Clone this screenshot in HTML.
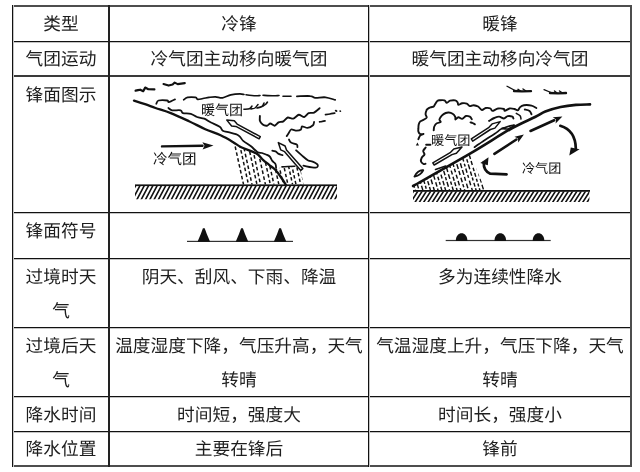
<!DOCTYPE html>
<html lang="zh-CN">
<head>
<meta charset="utf-8">
<style>
html,body{margin:0;padding:0;background:#fff;}
.t,.d{will-change:transform;}
body{width:640px;height:472px;position:relative;overflow:hidden;text-rendering:geometricPrecision;font-family:"Liberation Sans",sans-serif;color:#1e1e1e;}
.h{position:absolute;height:1px;background:#111;border-bottom:1px solid #c4c4c4;}
.v{position:absolute;width:1px;background:#111;border-right:1px solid #c4c4c4;}
.t{position:absolute;font-size:17.7px;line-height:20px;white-space:nowrap;text-align:center;}
svg{position:absolute;}
.d{position:absolute;font-size:13.5px;line-height:16px;white-space:nowrap;color:#111;}
</style>
</head>
<body>
<!-- grid -->
<div class="h" style="left:12px;top:5px;width:620px;height:2px;background:#4d4d4d;border:0"></div>
<div class="h" style="left:12px;top:41px;width:620px"></div>
<div class="h" style="left:12px;top:75px;width:620px;height:2px;background:#3a3a3a;border:0"></div>
<div class="h" style="left:12px;top:212px;width:620px"></div>
<div class="h" style="left:12px;top:258px;width:620px"></div>
<div class="h" style="left:12px;top:327px;width:620px"></div>
<div class="h" style="left:12px;top:396px;width:620px"></div>
<div class="h" style="left:12px;top:431px;width:620px"></div>
<div class="h" style="left:12px;top:465px;width:620px;height:2px;background:#4d4d4d;border:0"></div>
<div class="v" style="left:12px;top:5px;height:462px"></div>
<div class="v" style="left:108px;top:5px;height:462px;width:2px;background:#222;border:0"></div>
<div class="v" style="left:368px;top:5px;height:462px"></div>
<div class="v" style="left:630px;top:5px;height:462px;width:2px;background:#4d4d4d;border:0"></div>
<!-- col1 -->
<div class="t" style="left:14px;width:94px;top:14px">类型</div>
<div class="t" style="left:14px;width:94px;top:49px">气团运动</div>
<div class="t" style="left:14px;width:94px;top:85px">锋面图示</div>
<div class="t" style="left:14px;width:94px;top:221px">锋面符号</div>
<div class="t" style="left:14px;width:94px;top:267px">过境时天</div>
<div class="t" style="left:14px;width:94px;top:301px">气</div>
<div class="t" style="left:14px;width:94px;top:336px">过境后天</div>
<div class="t" style="left:14px;width:94px;top:370px">气</div>
<div class="t" style="left:14px;width:94px;top:405px">降水时间</div>
<div class="t" style="left:14px;width:94px;top:439px">降水位置</div>

<!-- col2 -->
<div class="t" style="left:110px;width:258px;top:14px">冷锋</div>
<div class="t" style="left:110px;width:258px;top:49px">冷气团主动移向暖气团</div>
<div class="t" style="left:110px;width:258px;top:267px">阴天、刮风、下雨、降温</div>
<div class="t" style="left:110px;width:258px;top:336px">温度湿度下降，气压升高，天气</div>
<div class="t" style="left:110px;width:258px;top:370px">转晴</div>
<div class="t" style="left:110px;width:258px;top:405px">时间短，强度大</div>
<div class="t" style="left:110px;width:258px;top:439px">主要在锋后</div>

<!-- col3 -->
<div class="t" style="left:370px;width:260px;top:14px">暖锋</div>
<div class="t" style="left:370px;width:260px;top:49px">暖气团主动移向冷气团</div>
<div class="t" style="left:370px;width:260px;top:267px">多为连续性降水</div>
<div class="t" style="left:370px;width:260px;top:336px">气温湿度上升，气压下降，天气</div>
<div class="t" style="left:370px;width:260px;top:370px">转晴</div>
<div class="t" style="left:370px;width:260px;top:405px">时间长，强度小</div>
<div class="t" style="left:370px;width:260px;top:439px">锋前</div>

<svg width="640" height="472" viewBox="0 0 640 472" style="left:0;top:0">
<path d="M135.6,90.7 L138.0,90.2 L140.2,89.7 L143.2,91.2 L145.2,87.6 L148.3,89.2 L154.4,89.4" fill="none" stroke="#111" stroke-width="2.2" stroke-linecap="round" stroke-linejoin="round" />
<path d="M163.5,84.1 L168.6,85.6 L172.6,84.6 L174.7,82.6 L177.7,84.1 L184.8,83.1" fill="none" stroke="#111" stroke-width="2.1" stroke-linecap="round" stroke-linejoin="round" />
<path d="M134.0,100.6 C135.8,101.2 141.4,103.0 145.0,104.2 C148.6,105.4 151.2,106.5 155.5,108.0 C159.8,109.5 165.2,110.9 170.8,113.1 C176.4,115.3 183.2,118.5 189.0,121.2 C194.8,123.9 200.0,126.8 205.3,129.2 C210.6,131.5 216.0,133.2 220.6,135.3 C225.2,137.4 229.4,139.9 232.8,141.9 C236.2,143.9 237.3,145.3 241.2,147.2 C245.1,149.1 252.8,151.4 256.4,153.5 C260.0,155.6 260.6,157.7 262.7,159.6 C264.8,161.5 267.1,163.2 269.1,164.8 C271.2,166.5 273.1,167.6 275.0,169.5 C276.9,171.4 278.7,173.9 280.5,176.5 C282.3,179.1 285.1,183.6 286.0,185.0" fill="none" stroke="#111" stroke-width="2.3" stroke-linecap="round" stroke-linejoin="round"/>
<path d="M156.3,103.7 C156.7,103.2 156.8,101.0 158.6,100.5 C160.4,100.0 165.5,100.2 167.2,100.5 C168.9,100.8 167.5,102.3 168.8,102.1 C170.1,101.9 174.0,99.9 175.0,99.4" fill="none" stroke="#111" stroke-width="1.8" stroke-linecap="round" stroke-linejoin="round"/>
<path d="M183.7,99.8 C184.3,99.4 185.6,97.8 187.6,97.4 C189.6,97.0 193.8,97.1 195.5,97.4 C197.2,97.7 196.6,99.2 197.8,99.4 C199.1,99.6 201.1,98.8 203.0,98.5 C204.9,98.2 206.9,97.7 209.0,97.4 C211.1,97.1 213.2,96.7 215.5,96.8 C217.8,96.9 220.0,98.1 222.6,97.8 C225.2,97.5 227.9,95.5 230.8,94.8 C233.7,94.1 237.8,93.8 240.0,93.8 C242.2,93.8 243.3,94.4 244.0,94.5" fill="none" stroke="#111" stroke-width="1.7" stroke-linecap="round" stroke-linejoin="round"/>
<path d="M246.0,94.8 C247.6,95.0 253.4,95.7 255.7,95.8 C258.0,95.9 259.3,95.5 260.0,95.5" fill="none" stroke="#111" stroke-width="1.6" stroke-linecap="round" stroke-linejoin="round"/>
<path d="M263.0,95.3 C264.8,95.4 271.0,95.8 273.7,95.8 C276.4,95.8 278.1,95.5 279.0,95.5" fill="none" stroke="#111" stroke-width="1.6" stroke-linecap="round" stroke-linejoin="round"/>
<path d="M283.0,96.3 L291.0,96.3" fill="none" stroke="#111" stroke-width="1.6" stroke-linecap="round" stroke-linejoin="round" />
<path d="M296.9,96.3 C299.1,96.3 307.2,95.8 310.3,96.1 C313.4,96.3 312.8,97.6 315.3,97.8 C317.8,98.0 322.2,96.9 325.5,97.3 C328.8,97.7 333.6,99.5 335.2,99.9" fill="none" stroke="#111" stroke-width="1.8" stroke-linecap="round" stroke-linejoin="round"/>
<path d="M168.4,108.0 C169.0,108.4 170.0,109.9 172.0,110.3 C174.0,110.7 178.8,109.8 180.6,110.3 C182.4,110.8 181.2,112.5 182.9,113.1 C184.6,113.7 188.5,113.2 190.8,113.9 C193.2,114.6 194.8,116.2 197.0,117.0 C199.2,117.8 202.0,117.8 204.3,118.7 C206.6,119.6 208.4,121.2 211.0,122.5 C213.6,123.8 217.7,125.4 219.7,126.8 C221.7,128.2 221.4,129.8 222.8,130.7 C224.2,131.6 225.7,131.4 228.3,132.2 C230.9,133.0 236.0,133.9 238.5,135.4 C241.0,136.9 241.1,139.1 243.2,140.9 C245.3,142.7 248.7,144.5 251.0,146.3 C253.3,148.2 255.5,150.9 257.3,152.0 C259.1,153.1 260.6,152.6 262.0,153.0 C263.4,153.4 264.7,153.9 266.0,154.5 C267.3,155.1 268.6,155.4 269.7,156.5 C270.8,157.6 271.3,159.6 272.3,160.9 C273.3,162.2 274.9,162.9 275.5,164.1 C276.1,165.3 276.0,167.3 276.1,168.0" fill="none" stroke="#111" stroke-width="1.8" stroke-linecap="round" stroke-linejoin="round"/>
<path d="M243.9,109.2 C244.8,109.1 248.1,109.3 249.4,108.8 C250.8,108.3 251.6,106.5 252.0,106.0" fill="none" stroke="#111" stroke-width="1.5" stroke-linecap="round" stroke-linejoin="round"/>
<path d="M251.0,109.0 C251.7,108.8 253.8,108.8 255.0,108.0 C256.2,107.2 257.5,105.1 258.0,104.5" fill="none" stroke="#111" stroke-width="1.5" stroke-linecap="round" stroke-linejoin="round"/>
<path d="M257.0,108.0 C257.8,107.8 260.8,107.3 262.0,106.5 C263.2,105.7 263.7,103.6 264.0,103.0" fill="none" stroke="#111" stroke-width="1.6" stroke-linecap="round" stroke-linejoin="round"/>
<path d="M263.0,106.0 C263.5,105.7 265.3,104.7 266.0,104.0 C266.7,103.3 267.2,102.4 267.4,102.1" fill="none" stroke="#111" stroke-width="1.7" stroke-linecap="round" stroke-linejoin="round"/>
<path d="M259.9,115.9 C259.9,116.5 259.6,119.8 259.9,120.8 C260.2,121.8 261.9,124.0 262.7,124.6 C263.5,125.2 266.1,125.8 267.0,125.7 C267.9,125.6 269.4,123.5 270.3,123.5 C271.2,123.5 273.7,125.8 274.7,125.7 C275.7,125.6 277.5,122.9 278.5,122.4 C279.5,121.9 282.3,121.9 283.4,121.3 C284.5,120.7 286.6,117.8 287.8,117.5 C289.0,117.2 292.0,118.9 293.3,118.6 C294.6,118.3 297.5,115.0 298.8,114.8 C300.1,114.6 303.1,117.2 304.2,117.0 C305.3,116.8 307.4,113.6 308.6,113.1 C309.8,112.6 312.8,113.2 314.1,112.6 C315.4,112.0 319.0,108.7 319.6,108.2" fill="none" stroke="#111" stroke-width="1.9" stroke-linecap="round" stroke-linejoin="round"/>
<path d="M286.7,136.1 C287.0,135.7 288.4,133.6 288.9,132.8 C289.4,132.0 290.2,129.8 291.1,129.5 C292.0,129.2 295.4,130.6 296.6,130.6 C297.8,130.6 300.4,130.0 301.0,129.5 C301.6,129.0 301.2,126.5 302.0,126.3 C302.8,126.1 306.2,128.0 307.5,127.9 C308.8,127.8 312.2,125.9 313.0,125.2 C313.8,124.5 314.0,122.3 314.1,121.9" fill="none" stroke="#111" stroke-width="1.8" stroke-linecap="round" stroke-linejoin="round"/>
<path d="M319.6,121.9 C320.0,121.8 321.1,121.7 322.0,121.5 C322.9,121.3 324.5,120.9 325.0,120.8" fill="none" stroke="#111" stroke-width="1.7" stroke-linecap="round" stroke-linejoin="round"/>
<path d="M325.5,114.6 C326.2,114.5 328.5,114.2 330.0,114.0 C331.5,113.8 333.9,113.2 334.7,113.1" fill="none" stroke="#111" stroke-width="1.7" stroke-linecap="round" stroke-linejoin="round"/>
<path d="M335.7,110.6 L336.5,111.0" fill="none" stroke="#111" stroke-width="1.8" stroke-linecap="round" stroke-linejoin="round" />
<path d="M340.0,111.0 L340.5,111.2" fill="none" stroke="#111" stroke-width="1.5" stroke-linecap="round" stroke-linejoin="round" />
<path d="M289.0,139.5 C289.3,140.0 289.7,141.8 291.0,142.6 C292.3,143.4 295.7,143.8 296.8,144.6 C297.9,145.3 297.3,146.7 297.4,147.1" fill="none" stroke="#111" stroke-width="1.8" stroke-linecap="round" stroke-linejoin="round"/>
<path d="M296.1,150.3 C297.1,151.2 299.8,153.7 301.8,155.4 C303.8,157.1 306.4,159.5 308.2,160.5 C310.0,161.5 311.0,160.9 312.6,161.6 C314.2,162.3 317.1,163.7 317.6,164.7 C318.1,165.7 318.0,167.5 315.6,167.7 C313.2,167.9 305.4,166.0 303.4,165.7" fill="none" stroke="#111" stroke-width="1.8" stroke-linecap="round" stroke-linejoin="round"/>
<path d="M272.3,150.7 C272.8,150.8 274.4,150.9 275.5,151.4 C276.6,151.9 277.5,153.3 278.7,153.9 C279.9,154.5 281.9,155.0 282.5,155.2" fill="none" stroke="#111" stroke-width="1.8" stroke-linecap="round" stroke-linejoin="round"/>
<clipPath id="cr1"><path d="M233,142 L232.8,141.9 L241.2,147.2 L256.4,153.5 L262.7,159.6 L269.1,164.8 L275.0,169.5 L280.5,176.5 L286.0,185.0 L286,184.5 L240,184.5 L236.5,163 Z"/></clipPath>
<path clip-path="url(#cr1)" d="M215.0,138.0 L226.0,188.0 M219.4,135.7 L230.4,185.7 M223.8,133.4 L234.8,183.4 M228.2,137.1 L239.2,187.1 M232.6,134.8 L243.6,184.8 M237.0,132.5 L248.0,182.5 M241.4,136.2 L252.4,186.2 M245.8,133.9 L256.8,183.9 M250.2,137.6 L261.2,187.6 M254.6,135.3 L265.6,185.3 M259.0,133.0 L270.0,183.0 M263.4,136.7 L274.4,186.7 M267.8,134.4 L278.8,184.4 M272.2,132.1 L283.2,182.1 M276.6,135.8 L287.6,185.8 M281.0,133.5 L292.0,183.5 M285.4,137.2 L296.4,187.2 M289.8,134.9 L300.8,184.9 M294.2,132.6 L305.2,182.6 M298.6,136.3 L309.6,186.3" stroke="#111" stroke-width="1.5" fill="none" stroke-dasharray="3.6 2.4"/>
<clipPath id="cr2"><path d="M275,169.5 L282,167 L295,166 L300.5,169 L303.5,184.5 L286,184.5 L280.5,176.5 Z"/></clipPath>
<path clip-path="url(#cr2)" d="M265.0,160.0 L271.6,190.0 M269.2,157.7 L275.8,187.7 M273.4,155.4 L280.0,185.4 M277.6,159.1 L284.2,189.1 M281.8,156.8 L288.4,186.8 M286.0,154.5 L292.6,184.5 M290.2,158.2 L296.8,188.2 M294.4,155.9 L301.0,185.9 M298.6,159.6 L305.2,189.6 M302.8,157.3 L309.4,187.3 M307.0,155.0 L313.6,185.0" stroke="#111" stroke-width="1.5" fill="none" stroke-dasharray="3.4 2.4"/>
<path d="M282.0,166.9 C283.0,166.8 285.9,166.6 288.0,166.5 C290.1,166.4 293.7,166.3 294.8,166.3" fill="none" stroke="#111" stroke-width="1.6" stroke-linecap="round" stroke-linejoin="round"/>
<path d="M260.3,136.6 L237.1,124.1 L234.3,120.8 L226.8,120.1 L231.6,126.0 L235.9,126.4 L259.1,138.8Z" fill="#fff" stroke="#111" stroke-width="1.5" stroke-linejoin="round"/>
<path d="M302.8,168.6 L286.5,150.0 L285.1,146.0 L278.3,142.6 L280.7,149.8 L284.6,151.7 L300.8,170.4Z" fill="#fff" stroke="#111" stroke-width="1.5" stroke-linejoin="round"/>
<path d="M162.0,146.4 L202.5,145.8" fill="none" stroke="#111" stroke-width="2.4" stroke-linecap="round" stroke-linejoin="round" />
<path d="M202.6,149.4 L213.5,145.6 L202.4,142.2 L204.5,145.7Z" fill="#111"/>
<rect x="135" y="184.4" width="202" height="1.7" fill="#111"/>
<clipPath id="gc"><rect x="135" y="186" width="202" height="13.199999999999989"/></clipPath>
<path clip-path="url(#gc)" d="M128.0,200.2 L136.0,185.0 M132.3,200.2 L140.3,185.0 M136.6,200.2 L144.6,185.0 M140.9,200.2 L148.9,185.0 M145.2,200.2 L153.2,185.0 M149.5,200.2 L157.5,185.0 M153.8,200.2 L161.8,185.0 M158.1,200.2 L166.1,185.0 M162.4,200.2 L170.4,185.0 M166.7,200.2 L174.7,185.0 M171.0,200.2 L179.0,185.0 M175.3,200.2 L183.3,185.0 M179.6,200.2 L187.6,185.0 M183.9,200.2 L191.9,185.0 M188.2,200.2 L196.2,185.0 M192.5,200.2 L200.5,185.0 M196.8,200.2 L204.8,185.0 M201.1,200.2 L209.1,185.0 M205.4,200.2 L213.4,185.0 M209.7,200.2 L217.7,185.0 M214.0,200.2 L222.0,185.0 M218.3,200.2 L226.3,185.0 M222.6,200.2 L230.6,185.0 M226.9,200.2 L234.9,185.0 M231.2,200.2 L239.2,185.0 M235.5,200.2 L243.5,185.0 M239.8,200.2 L247.8,185.0 M244.1,200.2 L252.1,185.0 M248.4,200.2 L256.4,185.0 M252.7,200.2 L260.7,185.0 M257.0,200.2 L265.0,185.0 M261.3,200.2 L269.3,185.0 M265.6,200.2 L273.6,185.0 M269.9,200.2 L277.9,185.0 M274.2,200.2 L282.2,185.0 M278.5,200.2 L286.5,185.0 M282.8,200.2 L290.8,185.0 M287.1,200.2 L295.1,185.0 M291.4,200.2 L299.4,185.0 M295.7,200.2 L303.7,185.0 M300.0,200.2 L308.0,185.0 M304.3,200.2 L312.3,185.0 M308.6,200.2 L316.6,185.0 M312.9,200.2 L320.9,185.0 M317.2,200.2 L325.2,185.0 M321.5,200.2 L329.5,185.0 M325.8,200.2 L333.8,185.0 M330.1,200.2 L338.1,185.0 M334.4,200.2 L342.4,185.0 M338.7,200.2 L346.7,185.0" stroke="#111" stroke-width="1.6" fill="none"/>
<path d="M507.0,86.2 L515.0,90.5" fill="none" stroke="#111" stroke-width="1.3" stroke-linecap="round" stroke-linejoin="round" />
<path d="M514.0,91.0 L522.0,91.3 L531.0,91.2" fill="none" stroke="#111" stroke-width="2.3" stroke-linecap="round" stroke-linejoin="round" />
<path d="M518.0,89.3 L520.5,91.0" fill="none" stroke="#111" stroke-width="1.4" stroke-linecap="round" stroke-linejoin="round" />
<path d="M523.0,89.0 L526.0,91.0" fill="none" stroke="#111" stroke-width="1.4" stroke-linecap="round" stroke-linejoin="round" />
<path d="M544.0,89.7 L551.0,92.5" fill="none" stroke="#111" stroke-width="1.3" stroke-linecap="round" stroke-linejoin="round" />
<path d="M550.0,93.0 L558.0,93.3 L566.0,93.0" fill="none" stroke="#111" stroke-width="2.3" stroke-linecap="round" stroke-linejoin="round" />
<path d="M554.5,91.0 L557.0,93.0" fill="none" stroke="#111" stroke-width="1.4" stroke-linecap="round" stroke-linejoin="round" />
<path d="M559.5,91.0 L562.5,93.0" fill="none" stroke="#111" stroke-width="1.4" stroke-linecap="round" stroke-linejoin="round" />
<path d="M413.1,186.0 C422.6,180.6 453.9,163.0 470.0,153.6 C486.1,144.2 498.9,135.6 509.7,129.5 C520.5,123.4 529.1,120.0 535.0,117.0 C540.9,114.0 541.0,113.2 545.3,111.5 C549.6,109.8 555.5,108.1 560.6,107.0 C565.7,105.9 571.0,105.3 575.9,104.9 C580.8,104.5 587.6,104.5 590.0,104.4" fill="none" stroke="#111" stroke-width="2.6" stroke-linecap="round" stroke-linejoin="round"/>
<path d="M418.4,139.2 C418.7,138.6 419.4,136.2 420.3,135.4 C421.2,134.6 423.5,134.3 423.5,134.1 C423.5,133.9 421.2,134.5 420.3,134.1 C419.4,133.7 418.7,132.5 418.4,131.6 C418.1,130.7 418.3,129.6 418.4,128.4 C418.4,127.2 418.4,125.8 418.7,124.6 C419.0,123.4 419.4,122.2 420.3,121.4 C421.2,120.6 423.0,120.2 424.1,119.5 C425.2,118.8 426.4,118.4 426.7,117.5 C426.9,116.6 425.7,115.4 425.6,114.3 C425.5,113.2 425.9,111.9 426.2,111.1 C426.5,110.2 426.5,109.8 427.2,109.2 C427.9,108.6 429.3,107.7 430.4,107.3 C431.5,106.9 432.9,107.0 433.6,106.6 C434.3,106.2 434.2,105.7 434.8,104.7 C435.4,103.8 436.5,101.7 437.4,100.9 C438.2,100.2 438.7,100.3 439.9,100.2 C441.1,100.1 443.2,99.9 444.4,100.3 C445.6,100.7 445.9,102.7 446.9,102.8 C447.8,102.9 448.7,101.1 450.1,100.7 C451.5,100.3 453.9,100.1 455.2,100.4 C456.5,100.7 457.2,101.8 457.7,102.6 C458.2,103.3 457.6,104.8 458.4,104.9 C459.1,105.0 460.8,103.5 462.2,103.3 C463.6,103.1 465.4,103.1 466.7,103.6 C468.0,104.1 468.6,105.8 469.8,106.1 C471.0,106.4 472.3,105.1 473.7,105.2 C475.1,105.3 476.7,105.7 478.1,106.5 C479.5,107.3 480.6,109.8 481.9,110.0 C483.2,110.2 484.3,108.2 485.7,108.0 C487.1,107.8 489.4,108.0 490.5,108.5 C491.6,109.0 491.1,110.9 492.4,110.9 C493.7,110.9 496.2,108.8 498.1,108.5 C500.0,108.2 502.8,108.6 503.9,109.0 C505.0,109.4 503.9,111.0 504.8,110.9 C505.8,110.8 508.0,108.8 509.6,108.5 C511.2,108.2 513.0,108.7 514.4,109.0 C515.8,109.3 516.8,110.7 517.7,110.4 C518.7,110.1 519.1,108.0 520.1,107.1 C521.1,106.2 522.0,105.5 523.9,105.2 C525.8,105.0 529.4,105.1 531.5,105.6 C533.6,106.1 535.5,107.6 536.3,108.0" fill="none" stroke="#111" stroke-width="1.9" stroke-linecap="round" stroke-linejoin="round"/>
<path d="M433.7,130.3 C433.8,129.7 433.8,127.7 434.3,126.5 C434.8,125.3 435.7,124.0 436.8,123.3 C437.9,122.5 440.3,122.6 440.7,122.0 C441.1,121.4 439.2,120.6 439.4,119.5 C439.6,118.4 440.8,116.7 441.8,115.6 C442.9,114.5 444.5,113.5 445.7,113.0 C446.9,112.5 447.6,112.4 448.8,112.5 C450.0,112.6 451.5,113.1 452.6,113.8 C453.7,114.5 454.7,115.8 455.2,116.7 C455.7,117.7 455.0,119.4 455.5,119.5 C456.0,119.6 457.3,117.4 458.4,117.3 C459.5,117.2 460.9,119.1 462.2,118.9 C463.5,118.7 464.7,116.4 466.0,116.0 C467.3,115.6 468.8,116.2 469.8,116.7 C470.8,117.2 471.5,118.8 471.8,119.2" fill="none" stroke="#111" stroke-width="1.9" stroke-linecap="round" stroke-linejoin="round"/>
<path d="M470.5,122.4 C470.8,122.5 471.8,122.7 472.5,123.0 C473.2,123.3 474.5,124.1 474.9,124.3" fill="none" stroke="#111" stroke-width="1.9" stroke-linecap="round" stroke-linejoin="round"/>
<path d="M489.1,120.9 C490.0,120.4 492.6,118.7 494.3,118.0 C496.0,117.3 497.5,116.5 499.1,116.6 C500.7,116.7 502.5,118.6 503.9,118.5 C505.3,118.4 506.3,116.4 507.7,116.1 C509.1,115.8 511.4,116.2 512.4,116.6 C513.4,117.0 513.2,118.2 513.4,118.5" fill="none" stroke="#111" stroke-width="1.9" stroke-linecap="round" stroke-linejoin="round"/>
<path d="M524.8,109.5 C525.6,109.7 528.5,110.1 529.6,110.9 C530.7,111.7 531.2,113.7 531.5,114.2" fill="none" stroke="#111" stroke-width="1.9" stroke-linecap="round" stroke-linejoin="round"/>
<path d="M516.3,113.3 C516.9,113.7 519.3,114.8 520.1,115.7 C520.9,116.7 520.9,118.5 521.0,119.0" fill="none" stroke="#111" stroke-width="1.5" stroke-linecap="round" stroke-linejoin="round"/>
<path d="M502.0,128.5 C502.9,128.6 506.0,129.3 507.7,129.0 C509.4,128.7 511.3,127.2 512.4,126.6 C513.5,126.0 514.1,125.4 514.4,125.2" fill="none" stroke="#111" stroke-width="1.6" stroke-linecap="round" stroke-linejoin="round"/>
<path d="M426.2,144.8 L430.4,144.8" fill="none" stroke="#111" stroke-width="2" stroke-linecap="round" stroke-linejoin="round" />
<path d="M425.7,147.5 C425.3,148.1 423.4,149.8 423.2,151.0 C423.0,152.2 424.7,153.4 424.5,154.5 C424.3,155.6 422.4,156.3 421.8,157.5 C421.2,158.7 420.7,160.4 421.0,161.5 C421.3,162.6 422.8,163.6 423.5,164.0 C424.2,164.4 425.2,163.8 425.5,163.8" fill="none" stroke="#111" stroke-width="1.9" stroke-linecap="round" stroke-linejoin="round"/>
<path d="M414.5,176.6 C416,172.5 420,169.8 423.2,170.3 C421.5,173.8 418,175.8 414.5,176.6 Z" fill="none" stroke="#111" stroke-width="1.9" stroke-linejoin="round"/>
<path d="M415.8,145.6 L417.4,142.4 L419.0,145.6Z" fill="#111"/>
<path d="M435.5,169.5 L445.7,166.0" fill="none" stroke="#111" stroke-width="1.6" stroke-linecap="round" stroke-linejoin="round" />
<path d="M474.5,147.2 C475.2,146.7 477.4,145.1 479.0,144.0 C480.6,142.9 482.2,141.9 483.8,140.8 C485.4,139.8 486.6,138.9 488.4,137.7 C490.2,136.5 492.6,135.2 494.7,133.8 C496.8,132.4 499.2,130.2 500.9,129.1 C502.6,128.0 503.4,128.0 505.0,127.5 C506.6,127.0 508.9,126.3 510.3,125.9 C511.7,125.5 512.9,125.3 513.4,125.2" fill="none" stroke="#111" stroke-width="1.7" stroke-linecap="round" stroke-linejoin="round"/>
<path d="M472.7,141.1 L490.4,129.5 L494.9,128.1 L500.2,121.6 L492.1,123.9 L489.0,127.3 L471.3,138.9Z" fill="#fff" stroke="#111" stroke-width="1.5" stroke-linejoin="round"/>
<path d="M434.2,165.0 L451.9,154.6 L456.4,153.3 L462.0,147.1 L453.8,149.0 L450.6,152.3 L432.8,162.8Z" fill="#fff" stroke="#111" stroke-width="1.5" stroke-linejoin="round"/>
<path d="M494.4,153.9 L516.4,139.5" fill="none" stroke="#111" stroke-width="2.6" stroke-linecap="round" stroke-linejoin="round" />
<path d="M518.2,142.4 L523.9,134.6 L514.5,136.7 L518.0,138.4Z" fill="#111"/>
<path d="M530.5,131.0 L554.2,120.3" fill="none" stroke="#111" stroke-width="2.6" stroke-linecap="round" stroke-linejoin="round" />
<path d="M555.6,123.4 L562.4,116.6 L552.8,117.2 L556.0,119.5Z" fill="#111"/>
<path d="M560.3,125.8 Q575.5,130.5 575.8,148.5" fill="none" stroke="#111" stroke-width="2.7" stroke-linecap="round"/>
<path d="M569.3,155.6 L570.8,147.6 L579.6,149.2Z" fill="#111"/>
<path d="M506.6,174.3 L490.3,173.7 Q483.5,171 483.7,162.5" fill="none" stroke="#111" stroke-width="2.7" stroke-linecap="round"/>
<path d="M488.5,157.3 L480.3,163.0 L487.8,165.2Z" fill="#111"/>
<clipPath id="wr"><path d="M413,190.5 L413,186.2 L470,153.8 L484.8,189 L484.8,190.5 Z"/></clipPath>
<path clip-path="url(#wr)" d="M394.5,146.4 L395.5,149.5 M396.2,151.9 L397.1,154.9 M397.7,157.1 L398.8,160.7 M399.3,162.4 L400.5,166.3 M401.0,167.9 L402.1,171.7 M402.6,173.4 L403.5,176.4 M404.1,178.5 L405.5,183.1 M406.1,184.8 L407.0,188.1 M407.7,190.5 L409.2,195.4 M398.2,146.0 L399.7,151.0 M400.2,152.6 L401.6,157.3 M402.2,159.3 L403.1,162.4 M403.6,164.1 L404.7,167.6 M405.5,170.2 L406.4,173.4 M407.1,175.7 L408.4,179.9 M409.0,181.9 L410.2,185.9 M410.7,187.6 L411.6,190.5 M412.1,192.4 L413.4,196.7 M402.1,146.4 L403.4,150.5 M404.0,152.7 L405.0,156.1 M405.8,158.7 L407.1,163.0 M407.7,164.9 L408.9,169.0 M409.6,171.2 L411.0,175.9 M411.7,178.4 L412.7,181.8 M413.6,184.6 L414.5,187.7 M415.1,189.8 L416.5,194.2 M405.7,145.6 L406.5,148.4 M407.3,150.8 L408.6,155.3 M409.3,157.6 L410.7,162.3 M411.3,164.3 L412.6,168.6 M413.3,171.0 L414.5,175.0 M415.2,177.2 L416.5,181.8 M417.4,184.6 L418.5,188.4 M419.2,190.8 L420.1,193.7 M409.2,144.8 L410.7,149.7 M411.5,152.3 L412.5,155.8 M413.1,157.8 L414.4,162.1 M414.9,163.7 L416.1,167.5 M416.6,169.3 L417.5,172.4 M418.0,174.1 L419.4,178.6 M419.9,180.3 L420.9,183.7 M421.5,185.7 L422.9,190.4 M423.4,192.1 L424.6,195.9 M412.7,143.6 L414.1,148.2 M414.8,150.8 L415.9,154.2 M416.5,156.3 L417.6,159.9 M418.4,162.6 L419.8,167.5 M420.4,169.3 L421.3,172.5 M421.9,174.3 L422.9,177.7 M423.5,179.8 L424.8,183.9 M425.4,185.8 L426.2,188.7 M426.8,190.8 L427.9,194.4 M416.4,143.2 L417.7,147.6 M418.3,149.8 L419.6,153.9 M420.3,156.3 L421.2,159.3 M422.0,161.9 L423.3,166.5 M424.1,169.1 L425.5,173.7 M426.1,175.7 L427.2,179.4 M427.7,181.1 L429.0,185.3 M429.5,187.0 L430.4,190.0 M430.9,191.8 L431.9,195.0 M421.5,147.7 L422.4,150.5 M422.9,152.3 L423.8,155.3 M424.4,157.4 L425.3,160.2 M426.1,162.9 L427.3,167.0 M427.8,168.8 L428.9,172.2 M429.5,174.2 L430.5,177.8 M431.1,179.5 L432.5,184.2 M433.3,187.0 L434.4,190.8 M435.1,193.0 L436.0,196.0 M424.9,146.3 L425.9,149.7 M426.7,152.3 L427.6,155.4 M428.1,157.0 L429.6,161.9 M430.3,164.2 L431.2,167.3 M431.9,169.5 L432.7,172.4 M433.4,174.6 L434.9,179.6 M435.7,182.2 L437.0,186.6 M437.5,188.5 L438.6,192.1 M439.2,193.9 L440.5,198.4 M428.0,144.1 L429.1,147.6 M429.6,149.5 L431.0,154.1 M431.9,156.9 L433.3,161.5 M434.0,164.1 L435.4,168.7 M436.2,171.2 L437.1,174.5 M437.8,176.7 L438.9,180.3 M439.4,181.9 L440.2,184.8 M440.8,186.7 L441.8,190.1 M442.6,192.5 L444.0,197.4 M431.6,143.3 L433.1,148.3 M433.9,151.0 L435.0,154.6 M435.6,156.5 L436.5,159.8 M437.1,161.6 L438.1,164.9 M438.8,167.2 L440.2,172.0 M441.0,174.6 L442.1,178.5 M442.9,180.9 L444.2,185.4 M444.7,187.1 L446.0,191.4 M446.8,194.1 L448.2,198.6 M436.1,145.6 L437.0,148.8 M437.8,151.3 L438.9,154.9 M439.6,157.4 L441.1,162.4 M441.7,164.5 L442.8,168.1 M443.7,170.9 L445.0,175.3 M445.5,177.1 L446.4,180.2 M447.0,181.9 L448.4,186.7 M449.2,189.3 L450.1,192.4 M439.1,143.1 L440.4,147.3 M441.0,149.4 L442.2,153.4 M442.7,155.1 L443.6,158.0 M444.4,160.7 L445.7,165.0 M446.4,167.2 L447.8,172.0 M448.4,174.2 L449.9,178.9 M450.6,181.5 L451.6,184.7 M452.2,186.6 L453.2,190.1 M453.8,192.0 L455.0,196.1 M443.8,145.9 L444.7,149.0 M445.5,151.7 L446.6,155.3 M447.2,157.4 L448.4,161.5 M449.3,164.2 L450.4,167.9 M451.2,170.6 L452.4,174.5 M453.0,176.8 L454.2,180.7 M454.7,182.3 L455.8,186.1 M456.4,187.9 L457.2,190.7 M458.0,193.3 L458.9,196.5 M447.1,144.4 L448.3,148.4 M448.9,150.4 L450.1,154.3 M450.8,156.6 L452.1,161.1 M452.7,162.8 L453.9,166.9 M454.4,168.8 L455.5,172.2 M456.2,174.7 L457.4,178.6 M458.1,180.9 L459.4,185.4 M460.2,188.1 L461.4,191.8 M462.1,194.2 L463.2,198.1 M451.0,144.5 L452.1,148.3 M452.8,150.6 L453.9,154.4 M454.7,157.2 L456.0,161.5 M456.8,164.1 L458.3,169.0 M458.9,170.9 L460.1,175.0 M460.9,177.7 L462.3,182.3 M462.8,184.1 L463.8,187.2 M464.4,189.3 L465.3,192.3 M465.8,194.1 L466.7,197.1 M454.6,144.1 L456.1,148.9 M456.6,150.6 L457.9,155.0 M458.6,157.4 L459.6,160.5 M460.4,163.2 L461.8,168.1 M462.4,170.0 L463.9,174.9 M464.5,176.9 L465.6,180.8 M466.5,183.6 L467.9,188.2 M468.4,190.0 L469.5,193.8 M459.1,146.3 L460.1,149.5 M460.7,151.5 L462.0,155.9 M462.5,157.5 L463.7,161.5 M464.3,163.7 L465.2,166.5 M465.8,168.5 L467.0,172.7 M467.7,174.9 L468.6,177.8 M469.4,180.6 L470.7,185.2 M471.6,187.9 L472.5,191.0 M473.1,192.9 L473.9,195.8 M463.0,146.6 L463.9,149.7 M464.6,151.8 L466.0,156.6 M466.8,159.2 L467.8,162.6 M468.3,164.4 L469.8,169.2 M470.4,171.5 L471.7,175.8 M472.3,177.5 L473.1,180.5 M473.9,182.9 L475.0,186.6 M475.5,188.3 L477.0,193.2 M466.0,144.0 L466.9,147.0 M467.7,149.6 L468.6,152.6 M469.4,155.2 L470.5,159.0 M471.1,161.0 L472.3,165.0 M473.1,167.7 L474.1,171.1 M474.7,172.9 L475.8,176.8 M476.4,178.7 L477.3,181.7 M477.9,183.5 L478.7,186.5 M479.3,188.3 L480.3,191.8 M480.9,193.7 L482.3,198.2 M470.2,145.5 L471.2,148.7 M471.8,150.7 L472.7,153.5 M473.2,155.4 L474.1,158.3 M474.8,160.8 L476.0,164.8 M476.6,166.6 L477.7,170.4 M478.6,173.2 L479.5,176.2 M480.2,178.8 L481.4,182.5 M482.0,184.7 L483.4,189.4 M484.0,191.4 L485.2,195.4 M473.3,143.1 L474.4,146.6 M475.2,149.2 L476.5,153.6 M477.2,156.0 L478.3,159.6 M478.9,161.7 L479.8,164.6 M480.3,166.3 L481.2,169.3 M481.9,171.8 L482.9,175.1 M483.5,176.9 L484.4,179.9 M485.2,182.5 L486.6,187.3 M487.3,189.7 L488.3,193.1 M488.9,195.0 L489.9,198.4 M478.4,147.2 L479.5,151.0 M480.1,152.9 L481.5,157.8 M482.4,160.6 L483.6,164.6 M484.1,166.5 L485.6,171.4 M486.2,173.4 L487.3,177.0 M487.8,178.6 L488.9,182.2 M489.5,184.4 L490.7,188.3 M491.2,190.1 L492.4,194.0 M482.0,146.7 L482.9,149.7 M483.5,151.8 L484.4,154.6 M484.9,156.3 L485.9,159.7 M486.5,161.6 L487.7,165.7 M488.4,167.9 L489.7,172.4 M490.4,174.8 L491.7,179.2 M492.5,181.8 L493.6,185.5 M494.2,187.5 L495.7,192.4 M496.3,194.2 L497.6,198.6 M486.1,147.8 L487.5,152.4 M488.3,155.1 L489.6,159.3 M490.3,161.7 L491.7,166.3 M492.2,168.1 L493.4,172.1 M494.1,174.3 L495.5,178.9 M496.2,181.5 L497.6,186.1 M498.3,188.4 L499.7,193.1 M489.0,144.5 L490.0,147.8 M490.4,149.5 L491.4,152.6 M492.0,154.6 L492.9,157.6 M493.7,160.2 L494.9,164.3 M495.6,166.6 L496.8,170.8 M497.6,173.2 L498.7,177.1 M499.2,178.7 L500.6,183.2 M501.3,185.7 L502.5,189.7 M503.2,191.9 L504.4,196.1" stroke="#111" stroke-width="1.45" fill="none" stroke-linecap="butt"/>
<rect x="413" y="190" width="177" height="1.8" fill="#111"/>
<clipPath id="gw"><rect x="413" y="191.5" width="176.39999999999998" height="10.5"/></clipPath>
<path clip-path="url(#gw)" d="M406.0,203.0 L414.0,190.5 M410.3,203.0 L418.3,190.5 M414.6,203.0 L422.6,190.5 M418.9,203.0 L426.9,190.5 M423.2,203.0 L431.2,190.5 M427.5,203.0 L435.5,190.5 M431.8,203.0 L439.8,190.5 M436.1,203.0 L444.1,190.5 M440.4,203.0 L448.4,190.5 M444.7,203.0 L452.7,190.5 M449.0,203.0 L457.0,190.5 M453.3,203.0 L461.3,190.5 M457.6,203.0 L465.6,190.5 M461.9,203.0 L469.9,190.5 M466.2,203.0 L474.2,190.5 M470.5,203.0 L478.5,190.5 M474.8,203.0 L482.8,190.5 M479.1,203.0 L487.1,190.5 M483.4,203.0 L491.4,190.5 M487.7,203.0 L495.7,190.5 M492.0,203.0 L500.0,190.5 M496.3,203.0 L504.3,190.5 M500.6,203.0 L508.6,190.5 M504.9,203.0 L512.9,190.5 M509.2,203.0 L517.2,190.5 M513.5,203.0 L521.5,190.5 M517.8,203.0 L525.8,190.5 M522.1,203.0 L530.1,190.5 M526.4,203.0 L534.4,190.5 M530.7,203.0 L538.7,190.5 M535.0,203.0 L543.0,190.5 M539.3,203.0 L547.3,190.5 M543.6,203.0 L551.6,190.5 M547.9,203.0 L555.9,190.5 M552.2,203.0 L560.2,190.5 M556.5,203.0 L564.5,190.5 M560.8,203.0 L568.8,190.5 M565.1,203.0 L573.1,190.5 M569.4,203.0 L577.4,190.5 M573.7,203.0 L581.7,190.5 M578.0,203.0 L586.0,190.5 M582.3,203.0 L590.3,190.5 M586.6,203.0 L594.6,190.5 M590.9,203.0 L598.9,190.5" stroke="#111" stroke-width="1.6" fill="none"/>
<rect x="187" y="240.8" width="106" height="1.2" fill="#333"/>
<path d="M197.5,241.8 L200.8,234.0 L202.9,228.3 L204.7,228.3 L206.8,234.0 L210.1,241.8Z" fill="#111"/>
<path d="M235.7,241.8 L239.0,234.0 L241.1,228.3 L242.9,228.3 L245.0,234.0 L248.3,241.8Z" fill="#111"/>
<path d="M273.8,241.8 L277.1,234.0 L279.2,228.3 L281.0,228.3 L283.1,234.0 L286.4,241.8Z" fill="#111"/>
<rect x="445.7" y="239.9" width="105" height="1.2" fill="#333"/>
<path d="M455.8,240.9 C455.8,230.8 467.40000000000003,230.8 467.40000000000003,240.9 Z" fill="#111"/>
<path d="M494.5,240.9 C494.5,230.8 506.1,230.8 506.1,240.9 Z" fill="#111"/>
<path d="M532.7,240.9 C532.7,230.8 544.3,230.8 544.3,240.9 Z" fill="#111"/>
</svg>
<!-- diagram labels -->
<div class="d" style="left:201px;top:102px;font-size:14px">暖气团</div>
<div class="d" style="left:153px;top:152px;font-size:14.5px">冷气团</div>
<div class="d" style="left:431px;top:133px;font-size:13.2px">暖气团</div>
<div class="d" style="left:522px;top:161px;font-size:13.1px">冷气团</div>
</body>
</html>
